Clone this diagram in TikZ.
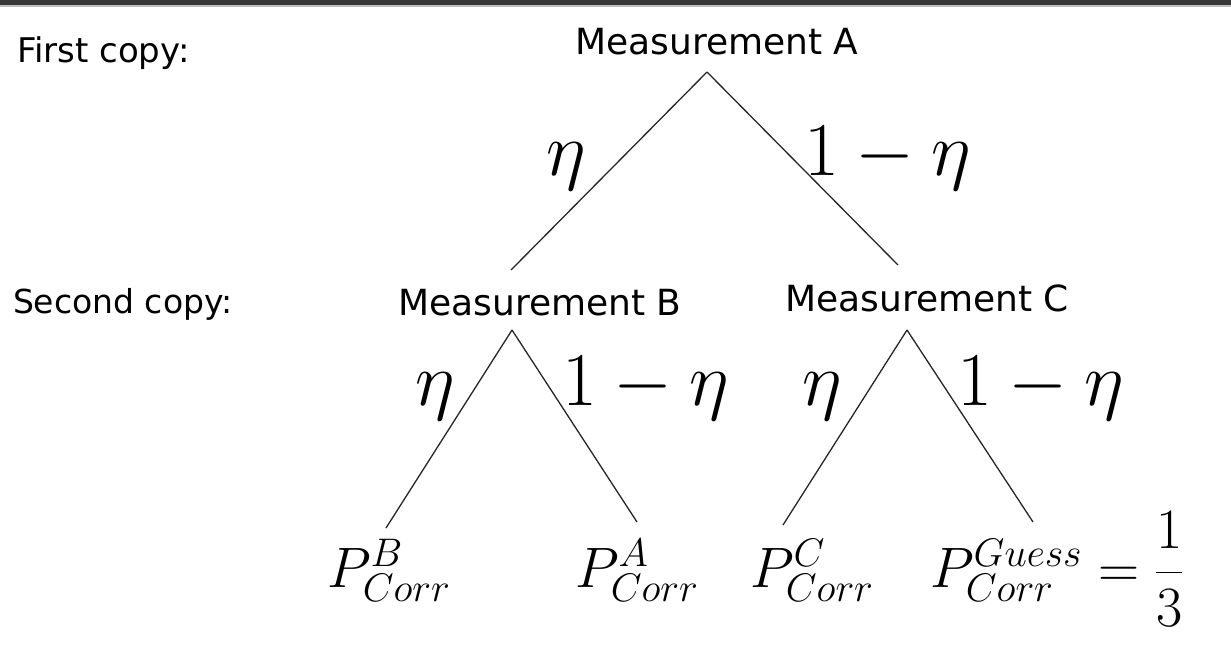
\RequirePackage{fix-cm}
\documentclass[tikz,border=0pt]{standalone}
\usepackage{amsmath}
\usepackage{fontspec}
\setsansfont{DejaVu Sans}
\begin{document}
\begin{tikzpicture}[x=1pt,y=-1pt,
  lab/.style={font=\sffamily\fontsize{36}{40}\selectfont, inner sep=0pt, outer sep=0pt, anchor=base},
  side/.style={font=\sffamily\fontsize{#1}{40}\selectfont, inner sep=0pt, outer sep=0pt, anchor=base west},
  mth/.style={font=\fontsize{76}{80}\selectfont, inner sep=0pt, outer sep=0pt, anchor=base west},
  pl/.style={font=\fontsize{57}{64}\selectfont, inner sep=0pt, outer sep=0pt, anchor=base west},
  branch/.style={draw=black!85, line width=1.3pt}]
\useasboundingbox (0,0) rectangle (1231,646);
\fill[white] (0,0) rectangle (1231,646);
\fill[black!78] (0,0) rectangle (1231,5);
\fill[black!25] (0,5) rectangle (1231,7);

% side labels
\node[side=34] (first) at (17,62) {First copy:};
\node[side=33] (second) at (13,313) {Second copy:};

% measurement nodes
\node[lab] (mA) at (717,54) {Measurement A};
\node[lab] (mB) at (540,315) {Measurement B};
\node[lab] (mC) at (927,311) {Measurement C};

% leaves
\node[pl] (pB) at (327,587) {$P^{B}_{Corr}$};
\node[pl] (pA) at (575,587) {$P^{A}_{Corr}$};
\node[pl] (pC) at (750,587) {$P^{C}_{Corr}$};
\node[pl] (pG) at (930,587) {$P^{Guess}_{Corr}=\dfrac{1}{3}$};

% branch labels
\node[mth] (eA) at (546,175) {$\eta$};
\node[mth] (oA) at (804,175) {$1-\eta$};
\node[mth] (eB) at (415,405) {$\eta$};
\node[mth] (oB) at (562,405) {$1-\eta$};
\node[mth] (eC) at (802,405) {$\eta$};
\node[mth] (oC) at (957,405) {$1-\eta$};

% apex points
\coordinate (tA) at ([xshift=-10pt,yshift=-18pt]mA.base);
\coordinate (tB) at ([xshift=-28pt,yshift=-15pt]mB.base);
\coordinate (tC) at ([xshift=-20pt,yshift=-19pt]mC.base);

% connectors
\draw[branch] (tA) -- ([xshift=-29pt,yshift=45pt]mB.base);
\draw[branch] (tA) -- ([xshift=-29pt,yshift=46pt]mC.base);
\draw[branch] (tB) -- ([xshift=59pt,yshift=59pt]pB.base west);
\draw[branch] (tB) -- ([xshift=62pt,yshift=65pt]pA.base west);
\draw[branch] (tC) -- ([xshift=33pt,yshift=62pt]pC.base west);
\draw[branch] (tC) -- ([xshift=103pt,yshift=65pt]pG.base west);
\end{tikzpicture}
\end{document}
